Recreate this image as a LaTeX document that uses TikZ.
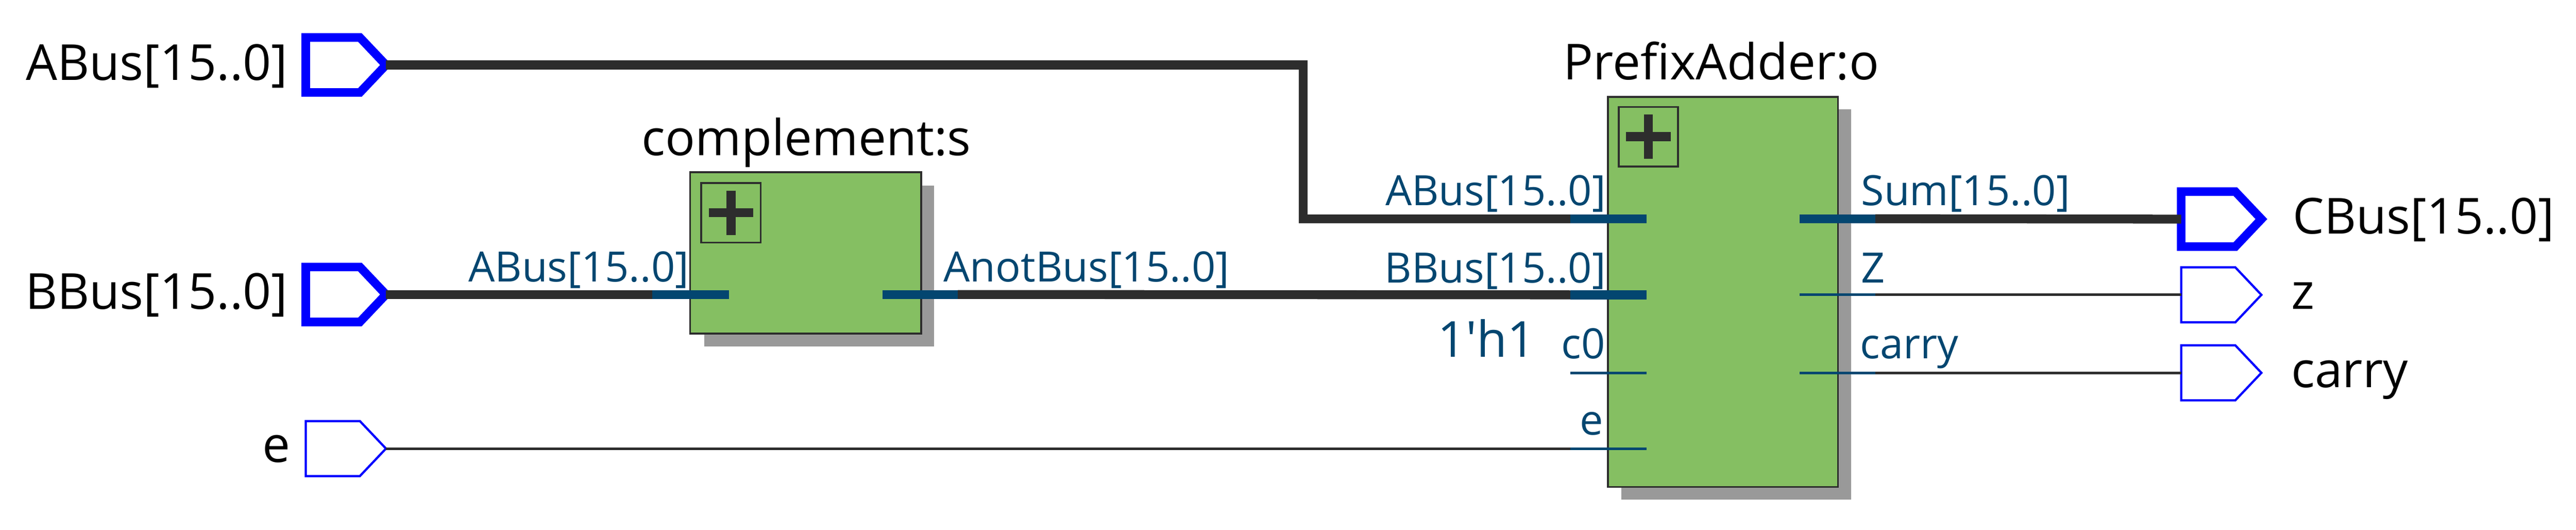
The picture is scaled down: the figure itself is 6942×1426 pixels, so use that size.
\documentclass[tikz,border=0pt]{standalone}
\usepackage{fontspec}
\setmainfont{Open Sans}
\usetikzlibrary{shapes.symbols}
\usetikzlibrary{calc}
\definecolor{wirecol}{RGB}{45,45,45}
\definecolor{pincol}{RGB}{3,70,112}
\definecolor{leafcol}{RGB}{133,191,98}
\definecolor{shadowcol}{RGB}{153,153,153}
\tikzset{
	port/.style={shape=signal,signal to=east,signal pointer angle=93,draw=blue,fill=white,
		line width=0.6mm,inner sep=0pt,outer sep=0pt,minimum width=2.16cm,minimum height=1.48cm,anchor=west},
	port bus/.style={port,line width=2.3mm},
	big text/.style={inner sep=0pt,font=\fontsize{38}{46}\selectfont},
	pin text/.style={inner sep=0pt,text=pincol,font=\fontsize{32}{38}\selectfont},
	net/.style={wirecol,line width=0.7mm},
	net bus/.style={wirecol,line width=2.4mm},
	stub/.style={pincol,line width=0.7mm},
	stub bus/.style={pincol,line width=2.4mm},
	block/.style={draw=wirecol,fill=leafcol,line width=0.5mm,inner sep=0pt,outer sep=0pt},
	plus box/.style={draw=wirecol,line width=0.5mm,inner sep=0pt,minimum size=1.6cm}
}
\begin{document}
\begin{tikzpicture}[x=0.01cm,y=-0.01cm]
	\useasboundingbox (0,0) rectangle (6942,1426);

	% entradas
	\node [port bus] (ABus) at (824,175) {};
	\node [port bus] (BBus) at (824,793) {};
	\node [port] (e) at (824,1208) {};
	\node [big text,anchor=base east] (ABus text) at (776,216) {ABus[15..0]};
	\node [big text,anchor=base east] (BBus text) at (776,832) {BBus[15..0]};
	\node [big text,anchor=base east] (e text) at (783,1245) {e};

	% saidas
	\node [port bus] (CBus) at (5878,590) {};
	\node [port] (z) at (5878,794) {};
	\node [port] (carry) at (5878,1004) {};
	\node [big text,anchor=base west] (CBus text) at (6178,630) {CBus[15..0]};
	\node [big text,anchor=base west] (z text) at (6174,833) {z};
	\node [big text,anchor=base west] (carry text) at (6174,1044) {carry};

	% bloco complement
	\fill [shadowcol] (1898,500) rectangle (2517,933);
	\node [block,minimum width=6.22cm,minimum height=4.34cm] (s) at (2171,681) {};
	\node [plus box] (s plus) at (1970,573) {};
	\draw [net bus] ($(s plus)+(-60,0)$) -- ($(s plus)+(60,0)$);
	\draw [net bus] ($(s plus)+(0,-60)$) -- ($(s plus)+(0,60)$);
	\node [big text,anchor=base west] (s text) at (1729,418) {complement:s};

	% bloco PrefixAdder
	\fill [shadowcol] (4369,294) rectangle (4988,1345);
	\node [block,minimum width=6.2cm,minimum height=10.5cm] (o) at (4643,786) {};
	\node [plus box] (o plus) at (4442,368) {};
	\draw [net bus] ($(o plus)+(-60,0)$) -- ($(o plus)+(60,0)$);
	\draw [net bus] ($(o plus)+(0,-60)$) -- ($(o plus)+(0,60)$);
	\node [big text,anchor=base west] (o text) at (4213,214) {PrefixAdder:o};

	% pontos dos pinos
	\coordinate (s ABus out) at (1757,793);
	\coordinate (s ABus in) at (1965,793);
	\coordinate (s Anot in) at (2378,793);
	\coordinate (s Anot out) at (2581,793);
	\coordinate (o ABus out) at (4232,589);
	\coordinate (o ABus in) at (4437,589);
	\coordinate (o BBus out) at (4232,794);
	\coordinate (o BBus in) at (4437,794);
	\coordinate (o c0 out) at (4232,1004);
	\coordinate (o c0 in) at (4437,1004);
	\coordinate (o e out) at (4232,1208);
	\coordinate (o e in) at (4437,1208);
	\coordinate (o Sum in) at (4850,589);
	\coordinate (o Sum out) at (5054,589);
	\coordinate (o Z in) at (4850,794);
	\coordinate (o Z out) at (5054,794);
	\coordinate (o carry in) at (4850,1004);
	\coordinate (o carry out) at (5054,1004);
	\coordinate (ABus bend) at (3512,175);
	\coordinate (ABus foot) at (3512,589);

	% fios
	\draw [net bus] (ABus.east) -- (ABus bend) -- (ABus foot) -- (o ABus out);
	\draw [net bus] (BBus.east) -- (s ABus out);
	\draw [net bus] (s Anot out) -- (o BBus out);
	\draw [net] (e.east) -- (o e out);
	\draw [net bus] (o Sum out) -- (CBus.west);
	\draw [net] (o Z out) -- (z.west);
	\draw [net] (o carry out) -- (carry.west);

	% pinos
	\draw [stub bus] (s ABus out) -- (s ABus in);
	\draw [stub bus] (s Anot in) -- (s Anot out);
	\draw [stub bus] (o ABus out) -- (o ABus in);
	\draw [stub bus] (o BBus out) -- (o BBus in);
	\draw [stub] (o c0 out) -- (o c0 in);
	\draw [stub] (o e out) -- (o e in);
	\draw [stub bus] (o Sum in) -- (o Sum out);
	\draw [stub] (o Z in) -- (o Z out);
	\draw [stub] (o carry in) -- (o carry out);

	% rotulos dos pinos
	\node [pin text,anchor=base east] (s ABus text) at (1857,759) {ABus[15..0]};
	\node [pin text,anchor=base west] (s Anot text) at (2542,759) {AnotBus[15..0]};
	\node [pin text,anchor=base east] (o ABus text) at (4328,553) {ABus[15..0]};
	\node [pin text,anchor=base east] (o BBus text) at (4328,762) {BBus[15..0]};
	\node [pin text,anchor=base east] (o c0 text) at (4326,966) {c0};
	\node [pin text,anchor=base east] (o e text) at (4322,1171) {e};
	\node [pin text,anchor=base west] (o Sum text) at (5015,553) {Sum[15..0]};
	\node [pin text,anchor=base west] (o Z text) at (5015,762) {Z};
	\node [pin text,anchor=base west] (o carry text) at (5012,966) {carry};
	\node [big text,text=pincol,anchor=base east] (one bit) at (4139,962) {1\textquotesingle h1};
\end{tikzpicture}
\end{document}
